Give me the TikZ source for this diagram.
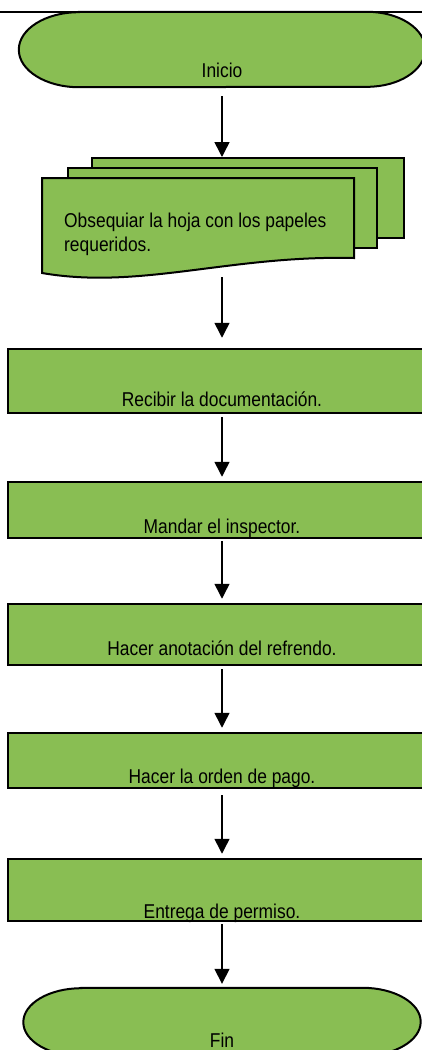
\documentclass[tikz,border=0pt]{standalone}
\usepackage{fontspec}
\setmainfont[FakeStretch=0.87]{Liberation Sans}
\usetikzlibrary{arrows.meta,backgrounds}
\definecolor{boxgreen}{RGB}{137,190,83}
\begin{document}
\begin{tikzpicture}[x=1pt,y=1pt,
  every node/.style={font=\fontsize{20}{24}\selectfont},
  term/.style={fill=boxgreen,draw=black,line width=2pt},
  page/.style={fill=boxgreen,draw=black,line width=2pt,inner sep=0pt},
  procbox/.style={draw=black,line width=2.5pt,fill=boxgreen,inner sep=0pt,minimum width=428pt},
  plain/.style={inner sep=0pt},
  arr/.style={line width=1.5pt,-{Triangle[length=15pt,width=15pt]}}
]
\useasboundingbox (0,0) rectangle (422,-1050);

% Start terminal
\node[plain, minimum width=406pt, minimum height=75pt, text height=65pt, text depth=10pt] (start) at (222,-49.5) {Inicio};
\begin{scope}[on background layer]
\path[term] ([xshift=60pt]start.north west) -- ([xshift=-58pt]start.north east)
  arc[start angle=90,end angle=-90,x radius=58pt,y radius=37.5pt]
  -- ([xshift=60pt]start.south west)
  arc[start angle=270,end angle=90,x radius=60pt,y radius=37.5pt] -- cycle;
\end{scope}

% Multi-document
\node[page, minimum width=312pt, minimum height=80pt] (p3) at (248,-198) {};
\node[page, minimum width=309pt, minimum height=80pt] (p2) at (222.5,-208) {};
\filldraw[page] (42,-178) -- (354,-178) -- (354,-258)
  .. controls (230,-255) and (140,-290) .. (42,-273) -- cycle;
\node[plain, anchor=base west, align=left] (doc) at (64,-251) {Obsequiar la hoja con los papeles\\requeridos.};
\coordinate (docbot) at (222,-277);

% Process boxes
\node[procbox, minimum height=64pt, text height=57pt, text depth=7pt] (b1) at (222,-381) {Recibir la documentación.};
\node[procbox, minimum height=56pt, text height=51pt, text depth=5pt] (b2) at (222,-510) {Mandar el inspector.};
\node[procbox, minimum height=61pt, text height=51pt, text depth=10pt] (b3) at (222,-634.5) {Hacer anotación del refrendo.};
\node[procbox, minimum height=55pt, text height=50pt, text depth=5pt] (b4) at (222,-760.5) {Hacer la orden de pago.};
\node[procbox, minimum height=62pt, text height=59pt, text depth=3pt] (b5) at (222,-890) {Entrega de permiso.};

% End terminal
\node[plain, minimum width=397pt, minimum height=68pt, text height=59.5pt, text depth=8.5pt] (fin) at (222,-1022) {Fin};
\begin{scope}[on background layer]
\path[term] ([xshift=58pt]fin.north west) -- ([xshift=-58pt]fin.north east)
  arc[start angle=90,end angle=-90,x radius=58pt,y radius=34pt]
  -- ([xshift=58pt]fin.south west)
  arc[start angle=270,end angle=90,x radius=58pt,y radius=34pt] -- cycle;
\end{scope}

% Connectors
\draw[arr] ([yshift=-9pt]start.south) -- (start.south |- p3.north);
\draw[arr] (docbot) -- ([yshift=10pt]b1.north);
\draw[arr] ([yshift=-3pt]b1.south) -- ([yshift=4pt]b2.north);
\draw[arr] ([yshift=-2pt]b2.south) -- ([yshift=4pt]b3.north);
\draw[arr] ([yshift=-3pt]b3.south) -- ([yshift=4pt]b4.north);
\draw[arr] ([yshift=-6pt]b4.south) -- ([yshift=4pt]b5.north);
\draw[arr] ([yshift=-2pt]b5.south) -- ([yshift=4pt]fin.north);

% Top rule
\draw[line width=2pt] (0,-12) -- (422,-12);
\end{tikzpicture}
\end{document}
